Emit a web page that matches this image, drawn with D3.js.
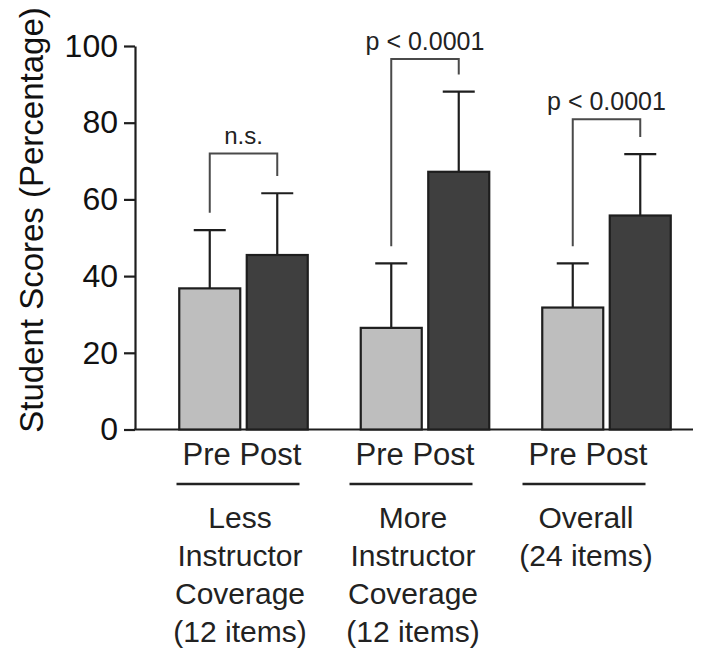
<!DOCTYPE html>
<html>
<head>
<meta charset="utf-8">
<script src="https://cdn.jsdelivr.net/npm/d3@7"></script>
<style>
  html, body { margin: 0; padding: 0; background: #fff; }
  svg { display: block; font-family: "Liberation Sans", Arial, Helvetica, sans-serif; }
</style>
</head>
<body>
<svg id="chart" width="701" height="651"></svg>
<script>
// Pre/post student scores by item group (mean ± SD, percentage)
const groupKeys = ["less", "more", "overall"];
const categoryLines = [
  ["Less", "Instructor", "Coverage", "(12 items)"],
  ["More", "Instructor", "Coverage", "(12 items)"],
  ["Overall", "(24 items)"]
];
const conditions = ["Pre", "Post"];
const preMeans = [36.8, 26.5, 31.8];
const postMeans = [45.5, 67.2, 55.8];
const preSD = [15.2, 16.8, 11.5];
const postSD = [16.1, 20.9, 16.0];
const sigLabels = ["n.s.", "p < 0.0001", "p < 0.0001"];
const bracketLevels = [72, 96.6, 80.9];
const yTicks = [0, 20, 40, 60, 80, 100];
const yTitle = "Student Scores (Percentage)";

const fills = { Pre: "#bebebe", Post: "#3f3f3f" };
const ink = "#1e1e1e";

const svg = d3.select("#chart");

const y = d3.scaleLinear().domain([0, 100]).range([429.5, 46]);

// group positions for the bars
const xGroup = d3.scaleBand().domain(groupKeys).range([152.75, 697.25]).padding(0);
const xCond = d3.scaleBand().domain(conditions).range([0, 128.5]).paddingInner(0.0963).paddingOuter(0);
// group positions for the labels beneath the axis
const xLabel = d3.scaleBand().domain(groupKeys).range([153.5, 672.5]).padding(0);

const data = groupKeys.map((k, i) => ({
  key: k,
  bars: [
    { cond: "Pre", mean: preMeans[i], sd: preSD[i] },
    { cond: "Post", mean: postMeans[i], sd: postSD[i] }
  ],
  sig: sigLabels[i],
  level: bracketLevels[i],
  lines: categoryLines[i]
}));

const barX = (g, c) => xGroup(g) + xGroup.bandwidth() / 2 - 64.25 + xCond(c);
const barCx = (g, c) => barX(g, c) + xCond.bandwidth() / 2;

// y axis
const yAxis = d3.axisLeft(y).tickValues(yTicks).tickSize(11).tickSizeOuter(0).tickPadding(6);
const ya = svg.append("g").attr("transform", "translate(135,0)").call(yAxis);
ya.select(".domain").attr("stroke", ink).attr("stroke-width", 2.2);
ya.selectAll(".tick line").attr("stroke", ink).attr("stroke-width", 2.2);
ya.selectAll(".tick text")
  .attr("fill", "#111")
  .style("font-size", "32px")
  .style("font-family", "'Liberation Sans', Arial, sans-serif");

// x baseline
svg.append("line")
  .attr("x1", 134).attr("x2", 693)
  .attr("y1", y(0)).attr("y2", y(0))
  .attr("stroke", ink).attr("stroke-width", 2.2);

// y title
svg.append("text")
  .attr("transform", "translate(43,220) rotate(-90)")
  .attr("text-anchor", "middle")
  .attr("fill", "#111")
  .style("font-size", "33px")
  .text(yTitle);

const gGroups = svg.selectAll("g.grp").data(data).join("g").attr("class", "grp");

// error bars (drawn first so bars sit on top of the whisker base)
gGroups.each(function (d) {
  const g = d3.select(this);
  d.bars.forEach(b => {
    const cx = barCx(d.key, b.cond);
    g.append("line")
      .attr("x1", cx).attr("x2", cx)
      .attr("y1", y(b.mean)).attr("y2", y(b.mean + b.sd))
      .attr("stroke", ink).attr("stroke-width", 2.2);
    g.append("line")
      .attr("x1", cx - 16).attr("x2", cx + 16)
      .attr("y1", y(b.mean + b.sd)).attr("y2", y(b.mean + b.sd))
      .attr("stroke", ink).attr("stroke-width", 2.2);
  });
});

// bars
gGroups.selectAll("rect")
  .data(d => d.bars.map(b => ({ ...b, key: d.key })))
  .join("rect")
  .attr("x", b => barX(b.key, b.cond))
  .attr("y", b => y(b.mean))
  .attr("width", xCond.bandwidth())
  .attr("height", b => y(0) - y(b.mean))
  .attr("fill", b => fills[b.cond])
  .attr("stroke", ink)
  .attr("stroke-width", 2.2);

// significance brackets
gGroups.each(function (d) {
  const g = d3.select(this);
  const xa = barCx(d.key, "Pre"), xb = barCx(d.key, "Post");
  const la = d.bars[0].mean + d.bars[0].sd + 4.5;
  const lb = d.bars[1].mean + d.bars[1].sd + 4.5;
  g.append("path")
    .attr("d", `M${xa},${y(la)}V${y(d.level)}H${xb}V${y(lb)}`)
    .attr("fill", "none")
    .attr("stroke", "#4a4a4a")
    .attr("stroke-width", 2);
  g.append("text")
    .attr("x", (xa + xb) / 2)
    .attr("y", y(d.level) - 9)
    .attr("text-anchor", "middle")
    .attr("fill", "#222")
    .style("font-size", d.sig === "n.s." ? "24px" : "25px")
    .text(d.sig);
});

// condition labels, divider lines and group names
const lab = svg.selectAll("g.lab").data(data).join("g").attr("class", "lab")
  .attr("transform", d => `translate(${xLabel(d.key) + xLabel.bandwidth() / 2},0)`);

lab.append("text")
  .attr("x", 2).attr("y", 465)
  .attr("text-anchor", "middle")
  .attr("fill", "#222")
  .style("font-size", "31px")
  .text(conditions.join(" "));

lab.append("line")
  .attr("x1", -63.5).attr("x2", 59.5)
  .attr("y1", 484).attr("y2", 484)
  .attr("stroke", "#222").attr("stroke-width", 2.5);

lab.selectAll("text.cat")
  .data(d => d.lines)
  .join("text")
  .attr("class", "cat")
  .attr("x", 0)
  .attr("y", (t, i) => 528 + i * 37.9)
  .attr("text-anchor", "middle")
  .attr("fill", "#222")
  .style("font-size", "30px")
  .text(t => t);
</script>
</body>
</html>
